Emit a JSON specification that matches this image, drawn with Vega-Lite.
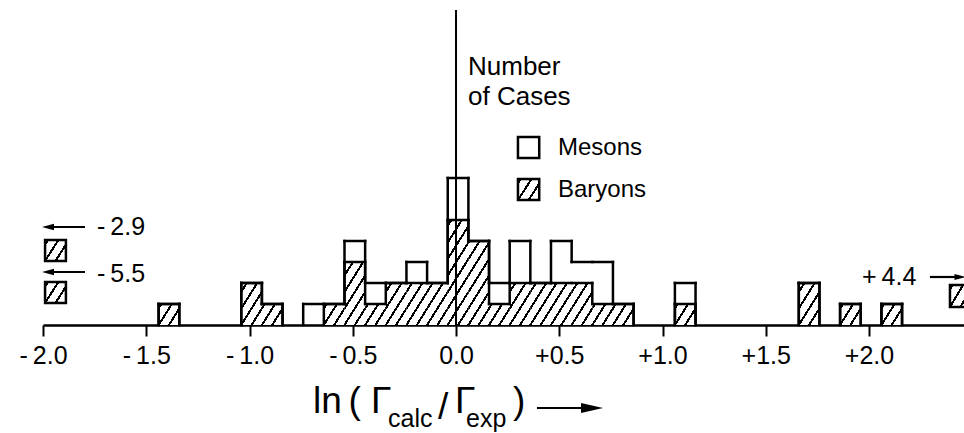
{
  "$schema": "https://vega.github.io/schema/vega-lite/v6.json",
  "width": 921,
  "height": 315,
  "autosize": {"type": "none"},
  "padding": {"left": 43, "top": 10, "right": 0, "bottom": 108},
  "background": "white",
  "config": {
    "view": {"stroke": null},
    "font": "Liberation Sans",
    "axis": {"grid": false, "domainColor": "black", "domainWidth": 2.5, "tickColor": "black", "tickWidth": 2, "tickSize": 11,
      "labelFontSize": 25, "labelFont": "Liberation Sans", "labelColor": "black", "labelPadding": 7,
      "labelFlush": false, "labelOverlap": false, "labelBound": false}
  },
  "datasets": {
    "bins": [
      {"lo": -1.54, "hi": -1.44, "baryons": 0, "mesons": 0, "total": 0},
      {"lo": -1.44, "hi": -1.34, "baryons": 1, "mesons": 0, "total": 1},
      {"lo": -1.34, "hi": -1.24, "baryons": 0, "mesons": 0, "total": 0},
      {"lo": -1.24, "hi": -1.14, "baryons": 0, "mesons": 0, "total": 0},
      {"lo": -1.14, "hi": -1.04, "baryons": 0, "mesons": 0, "total": 0},
      {"lo": -1.04, "hi": -0.94, "baryons": 2, "mesons": 0, "total": 2},
      {"lo": -0.94, "hi": -0.84, "baryons": 1, "mesons": 0, "total": 1},
      {"lo": -0.84, "hi": -0.74, "baryons": 0, "mesons": 0, "total": 0},
      {"lo": -0.74, "hi": -0.64, "baryons": 0, "mesons": 1, "total": 1},
      {"lo": -0.64, "hi": -0.54, "baryons": 1, "mesons": 0, "total": 1},
      {"lo": -0.54, "hi": -0.44, "baryons": 3, "mesons": 1, "total": 4},
      {"lo": -0.44, "hi": -0.34, "baryons": 1, "mesons": 1, "total": 2},
      {"lo": -0.34, "hi": -0.24, "baryons": 2, "mesons": 0, "total": 2},
      {"lo": -0.24, "hi": -0.14, "baryons": 2, "mesons": 1, "total": 3},
      {"lo": -0.14, "hi": -0.04, "baryons": 2, "mesons": 0, "total": 2},
      {"lo": -0.04, "hi": 0.06, "baryons": 5, "mesons": 2, "total": 7},
      {"lo": 0.06, "hi": 0.16, "baryons": 4, "mesons": 0, "total": 4},
      {"lo": 0.16, "hi": 0.26, "baryons": 1, "mesons": 1, "total": 2},
      {"lo": 0.26, "hi": 0.36, "baryons": 2, "mesons": 2, "total": 4},
      {"lo": 0.36, "hi": 0.46, "baryons": 2, "mesons": 0, "total": 2},
      {"lo": 0.46, "hi": 0.56, "baryons": 2, "mesons": 2, "total": 4},
      {"lo": 0.56, "hi": 0.66, "baryons": 2, "mesons": 1, "total": 3},
      {"lo": 0.66, "hi": 0.76, "baryons": 1, "mesons": 2, "total": 3},
      {"lo": 0.76, "hi": 0.86, "baryons": 1, "mesons": 0, "total": 1},
      {"lo": 0.86, "hi": 0.96, "baryons": 0, "mesons": 0, "total": 0},
      {"lo": 0.96, "hi": 1.06, "baryons": 0, "mesons": 0, "total": 0},
      {"lo": 1.06, "hi": 1.16, "baryons": 1, "mesons": 1, "total": 2},
      {"lo": 1.16, "hi": 1.26, "baryons": 0, "mesons": 0, "total": 0},
      {"lo": 1.26, "hi": 1.36, "baryons": 0, "mesons": 0, "total": 0},
      {"lo": 1.36, "hi": 1.46, "baryons": 0, "mesons": 0, "total": 0},
      {"lo": 1.46, "hi": 1.56, "baryons": 0, "mesons": 0, "total": 0},
      {"lo": 1.56, "hi": 1.66, "baryons": 0, "mesons": 0, "total": 0},
      {"lo": 1.66, "hi": 1.76, "baryons": 2, "mesons": 0, "total": 2},
      {"lo": 1.76, "hi": 1.86, "baryons": 0, "mesons": 0, "total": 0},
      {"lo": 1.86, "hi": 1.96, "baryons": 1, "mesons": 0, "total": 1},
      {"lo": 1.96, "hi": 2.06, "baryons": 0, "mesons": 0, "total": 0},
      {"lo": 2.06, "hi": 2.16, "baryons": 1, "mesons": 0, "total": 1},
      {"lo": 2.16, "hi": 2.26, "baryons": 0, "mesons": 0, "total": 0}
    ],
    "boxes": [
      {"x": -1.99, "x2": -1.889, "y": 3.048, "y2": 4.048, "kind": "hatched"},
      {"x": -1.99, "x2": -1.889, "y": 1.048, "y2": 2.048, "kind": "hatched"},
      {"x": 2.392, "x2": 2.492, "y": 0.857, "y2": 1.905, "kind": "hatched"},
      {"x": 0.3, "x2": 0.403, "y": 5.95, "y2": 6.95, "kind": "hatched"},
      {"x": 0.3, "x2": 0.403, "y": 7.95, "y2": 8.95, "kind": "open"}
    ],
    "origin": [{"x": 0}],
    "texts": [
      {"x": 0.058, "y": 11.9, "text": "Number", "role": "cases"},
      {"x": 0.058, "y": 10.48, "text": "of Cases", "role": "cases"},
      {"x": 0.494, "y": 8.42, "text": "Mesons", "role": "legend"},
      {"x": 0.494, "y": 6.45, "text": "Baryons", "role": "legend"},
      {"x": -1.7385, "y": 4.286, "text": "-\u20092.9", "role": "offscale"},
      {"x": -1.7385, "y": 2.048, "text": "-\u20095.5", "role": "offscale"},
      {"x": 1.966, "y": 1.905, "text": "+\u20094.4", "role": "offscale"},
      {"x": -0.6925, "y": -4.19, "text": "ln", "role": "title"},
      {"x": -0.521, "y": -4.19, "text": "(", "role": "title"},
      {"x": -0.4117, "y": -4.19, "text": "Γ", "role": "title"},
      {"x": -0.3293, "y": -4.86, "text": "calc", "role": "sub"},
      {"x": -0.087, "y": -4.48, "text": "/", "role": "title"},
      {"x": -0.0048, "y": -4.19, "text": "Γ", "role": "title"},
      {"x": 0.0484, "y": -4.86, "text": "exp", "role": "sub"},
      {"x": 0.276, "y": -4.19, "text": ")", "role": "title"}
    ],
    "arrows": [
      {"tail": -1.7966, "head": -1.9758, "y": 4.667, "kind": "left"},
      {"tail": -1.7966, "head": -1.9758, "y": 2.524, "kind": "left"},
      {"tail": 2.295, "head": 2.4407, "y": 2.286, "kind": "right"},
      {"tail": 0.392, "head": 0.6586, "y": -3.952, "kind": "big"}
    ]
  },
  "layer": [
    {
      "data": {"name": "bins"},
      "transform": [{"filter": "datum.baryons == 1"}],
      "mark": {"type": "rect", "strokeWidth": 0, "fill": {"gradient": "linear", "x1": 0, "y1": 0, "x2": 1.165, "y2": 0.7405, "stops": [
        {"offset": 0, "color": "white"},
        {"offset": 0.0481, "color": "white"}, {"offset": 0.0481, "color": "black"}, {"offset": 0.1184, "color": "black"}, {"offset": 0.1184, "color": "white"},
        {"offset": 0.3534, "color": "white"}, {"offset": 0.3534, "color": "black"}, {"offset": 0.4238, "color": "black"}, {"offset": 0.4238, "color": "white"},
        {"offset": 0.6588, "color": "white"}, {"offset": 0.6588, "color": "black"}, {"offset": 0.7291, "color": "black"}, {"offset": 0.7291, "color": "white"},
        {"offset": 0.9641, "color": "white"}, {"offset": 0.9641, "color": "black"}, {"offset": 1, "color": "black"}]}},
      "encoding": {
        "x": {"field": "lo", "type": "quantitative", "scale": {"domain": [-2, 2.46], "nice": false, "zero": false},
          "axis": {"values": [-2, -1.5, -1, -0.5, 0, 0.5, 1, 1.5, 2], "labelExpr": "datum.value == 0 ? '0.0' : (datum.value > 0 ? '+' : '-\u2009') + format(abs(datum.value), '.1f')", "title": null}},
        "x2": {"field": "hi"},
        "y": {"field": "baryons", "type": "quantitative", "scale": {"domain": [0, 15], "nice": false, "zero": false}, "axis": null},
        "y2": {"datum": 0}
      }
    },
    {
      "data": {"name": "bins"},
      "transform": [{"filter": "datum.baryons == 2"}],
      "mark": {"type": "rect", "strokeWidth": 0, "fill": {"gradient": "linear", "x1": 0, "y1": 0, "x2": 0.8682, "y2": 1.1037, "stops": [
        {"offset": 0, "color": "white"},
        {"offset": 0.0946, "color": "white"}, {"offset": 0.0946, "color": "black"}, {"offset": 0.1453, "color": "black"}, {"offset": 0.1453, "color": "white"},
        {"offset": 0.3145, "color": "white"}, {"offset": 0.3145, "color": "black"}, {"offset": 0.3651, "color": "black"}, {"offset": 0.3651, "color": "white"},
        {"offset": 0.5344, "color": "white"}, {"offset": 0.5344, "color": "black"}, {"offset": 0.585, "color": "black"}, {"offset": 0.585, "color": "white"},
        {"offset": 0.7543, "color": "white"}, {"offset": 0.7543, "color": "black"}, {"offset": 0.8049, "color": "black"}, {"offset": 0.8049, "color": "white"},
        {"offset": 0.9741, "color": "white"}, {"offset": 0.9741, "color": "black"}, {"offset": 1, "color": "black"}]}},
      "encoding": {
        "x": {"field": "lo", "type": "quantitative", "scale": {"domain": [-2, 2.46], "nice": false, "zero": false},
          "axis": {"values": [-2, -1.5, -1, -0.5, 0, 0.5, 1, 1.5, 2], "labelExpr": "datum.value == 0 ? '0.0' : (datum.value > 0 ? '+' : '-\u2009') + format(abs(datum.value), '.1f')", "title": null}},
        "x2": {"field": "hi"},
        "y": {"field": "baryons", "type": "quantitative", "scale": {"domain": [0, 15], "nice": false, "zero": false}, "axis": null},
        "y2": {"datum": 0}
      }
    },
    {
      "data": {"name": "bins"},
      "transform": [{"filter": "datum.baryons == 3"}],
      "mark": {"type": "rect", "strokeWidth": 0, "fill": {"gradient": "linear", "x1": 0, "y1": 0, "x2": 0.627, "y2": 1.1956, "stops": [
        {"offset": 0, "color": "white"},
        {"offset": 0.1208, "color": "white"}, {"offset": 0.1208, "color": "black"}, {"offset": 0.1604, "color": "black"}, {"offset": 0.1604, "color": "white"},
        {"offset": 0.2926, "color": "white"}, {"offset": 0.2926, "color": "black"}, {"offset": 0.3322, "color": "black"}, {"offset": 0.3322, "color": "white"},
        {"offset": 0.4644, "color": "white"}, {"offset": 0.4644, "color": "black"}, {"offset": 0.504, "color": "black"}, {"offset": 0.504, "color": "white"},
        {"offset": 0.6362, "color": "white"}, {"offset": 0.6362, "color": "black"}, {"offset": 0.6758, "color": "black"}, {"offset": 0.6758, "color": "white"},
        {"offset": 0.808, "color": "white"}, {"offset": 0.808, "color": "black"}, {"offset": 0.8476, "color": "black"}, {"offset": 0.8476, "color": "white"},
        {"offset": 0.9798, "color": "white"}, {"offset": 0.9798, "color": "black"}, {"offset": 1, "color": "black"}]}},
      "encoding": {
        "x": {"field": "lo", "type": "quantitative", "scale": {"domain": [-2, 2.46], "nice": false, "zero": false},
          "axis": {"values": [-2, -1.5, -1, -0.5, 0, 0.5, 1, 1.5, 2], "labelExpr": "datum.value == 0 ? '0.0' : (datum.value > 0 ? '+' : '-\u2009') + format(abs(datum.value), '.1f')", "title": null}},
        "x2": {"field": "hi"},
        "y": {"field": "baryons", "type": "quantitative", "scale": {"domain": [0, 15], "nice": false, "zero": false}, "axis": null},
        "y2": {"datum": 0}
      }
    },
    {
      "data": {"name": "bins"},
      "transform": [{"filter": "datum.baryons == 4"}],
      "mark": {"type": "rect", "strokeWidth": 0, "fill": {"gradient": "linear", "x1": 0, "y1": 0, "x2": 0.4746, "y2": 1.2067, "stops": [
        {"offset": 0, "color": "black"}, {"offset": 0.029, "color": "black"}, {"offset": 0.029, "color": "white"},
        {"offset": 0.1376, "color": "white"}, {"offset": 0.1376, "color": "black"}, {"offset": 0.17, "color": "black"}, {"offset": 0.17, "color": "white"},
        {"offset": 0.2785, "color": "white"}, {"offset": 0.2785, "color": "black"}, {"offset": 0.311, "color": "black"}, {"offset": 0.311, "color": "white"},
        {"offset": 0.4195, "color": "white"}, {"offset": 0.4195, "color": "black"}, {"offset": 0.452, "color": "black"}, {"offset": 0.452, "color": "white"},
        {"offset": 0.5605, "color": "white"}, {"offset": 0.5605, "color": "black"}, {"offset": 0.593, "color": "black"}, {"offset": 0.593, "color": "white"},
        {"offset": 0.7015, "color": "white"}, {"offset": 0.7015, "color": "black"}, {"offset": 0.7339, "color": "black"}, {"offset": 0.7339, "color": "white"},
        {"offset": 0.8424, "color": "white"}, {"offset": 0.8424, "color": "black"}, {"offset": 0.8749, "color": "black"}, {"offset": 0.8749, "color": "white"},
        {"offset": 0.9834, "color": "white"}, {"offset": 0.9834, "color": "black"}, {"offset": 1, "color": "black"}]}},
      "encoding": {
        "x": {"field": "lo", "type": "quantitative", "scale": {"domain": [-2, 2.46], "nice": false, "zero": false},
          "axis": {"values": [-2, -1.5, -1, -0.5, 0, 0.5, 1, 1.5, 2], "labelExpr": "datum.value == 0 ? '0.0' : (datum.value > 0 ? '+' : '-\u2009') + format(abs(datum.value), '.1f')", "title": null}},
        "x2": {"field": "hi"},
        "y": {"field": "baryons", "type": "quantitative", "scale": {"domain": [0, 15], "nice": false, "zero": false}, "axis": null},
        "y2": {"datum": 0}
      }
    },
    {
      "data": {"name": "bins"},
      "transform": [{"filter": "datum.baryons == 5"}],
      "mark": {"type": "rect", "strokeWidth": 0, "fill": {"gradient": "linear", "x1": 0, "y1": 0, "x2": 0.3764, "y2": 1.1963, "stops": [
        {"offset": 0, "color": "white"},
        {"offset": 0.0297, "color": "white"}, {"offset": 0.0297, "color": "black"}, {"offset": 0.0572, "color": "black"}, {"offset": 0.0572, "color": "white"},
        {"offset": 0.1492, "color": "white"}, {"offset": 0.1492, "color": "black"}, {"offset": 0.1768, "color": "black"}, {"offset": 0.1768, "color": "white"},
        {"offset": 0.2688, "color": "white"}, {"offset": 0.2688, "color": "black"}, {"offset": 0.2963, "color": "black"}, {"offset": 0.2963, "color": "white"},
        {"offset": 0.3883, "color": "white"}, {"offset": 0.3883, "color": "black"}, {"offset": 0.4158, "color": "black"}, {"offset": 0.4158, "color": "white"},
        {"offset": 0.5078, "color": "white"}, {"offset": 0.5078, "color": "black"}, {"offset": 0.5354, "color": "black"}, {"offset": 0.5354, "color": "white"},
        {"offset": 0.6274, "color": "white"}, {"offset": 0.6274, "color": "black"}, {"offset": 0.6549, "color": "black"}, {"offset": 0.6549, "color": "white"},
        {"offset": 0.7469, "color": "white"}, {"offset": 0.7469, "color": "black"}, {"offset": 0.7744, "color": "black"}, {"offset": 0.7744, "color": "white"},
        {"offset": 0.8664, "color": "white"}, {"offset": 0.8664, "color": "black"}, {"offset": 0.8939, "color": "black"}, {"offset": 0.8939, "color": "white"},
        {"offset": 0.9859, "color": "white"}, {"offset": 0.9859, "color": "black"}, {"offset": 1, "color": "black"}]}},
      "encoding": {
        "x": {"field": "lo", "type": "quantitative", "scale": {"domain": [-2, 2.46], "nice": false, "zero": false},
          "axis": {"values": [-2, -1.5, -1, -0.5, 0, 0.5, 1, 1.5, 2], "labelExpr": "datum.value == 0 ? '0.0' : (datum.value > 0 ? '+' : '-\u2009') + format(abs(datum.value), '.1f')", "title": null}},
        "x2": {"field": "hi"},
        "y": {"field": "baryons", "type": "quantitative", "scale": {"domain": [0, 15], "nice": false, "zero": false}, "axis": null},
        "y2": {"datum": 0}
      }
    },
    {
      "data": {"name": "boxes"},
      "transform": [{"filter": "datum.kind == 'hatched'"}],
      "mark": {"type": "rect", "stroke": "black", "strokeWidth": 2.5, "fill": {"gradient": "linear", "x1": 0, "y1": 0, "x2": 1.165, "y2": 0.7405, "stops": [
        {"offset": 0, "color": "white"},
        {"offset": 0.0481, "color": "white"}, {"offset": 0.0481, "color": "black"}, {"offset": 0.1184, "color": "black"}, {"offset": 0.1184, "color": "white"},
        {"offset": 0.3534, "color": "white"}, {"offset": 0.3534, "color": "black"}, {"offset": 0.4238, "color": "black"}, {"offset": 0.4238, "color": "white"},
        {"offset": 0.6588, "color": "white"}, {"offset": 0.6588, "color": "black"}, {"offset": 0.7291, "color": "black"}, {"offset": 0.7291, "color": "white"},
        {"offset": 0.9641, "color": "white"}, {"offset": 0.9641, "color": "black"}, {"offset": 1, "color": "black"}]}},
      "encoding": {
        "x": {"field": "x", "type": "quantitative", "scale": {"domain": [-2, 2.46], "nice": false, "zero": false},
          "axis": {"values": [-2, -1.5, -1, -0.5, 0, 0.5, 1, 1.5, 2], "labelExpr": "datum.value == 0 ? '0.0' : (datum.value > 0 ? '+' : '-\u2009') + format(abs(datum.value), '.1f')", "title": null}},
        "x2": {"field": "x2"},
        "y": {"field": "y", "type": "quantitative", "scale": {"domain": [0, 15], "nice": false, "zero": false}, "axis": null},
        "y2": {"field": "y2"}
      }
    },
    {
      "data": {"name": "boxes"},
      "transform": [{"filter": "datum.kind == 'open'"}],
      "mark": {"type": "rect", "stroke": "black", "strokeWidth": 2.5, "fill": "white"},
      "encoding": {
        "x": {"field": "x", "type": "quantitative", "scale": {"domain": [-2, 2.46], "nice": false, "zero": false},
          "axis": {"values": [-2, -1.5, -1, -0.5, 0, 0.5, 1, 1.5, 2], "labelExpr": "datum.value == 0 ? '0.0' : (datum.value > 0 ? '+' : '-\u2009') + format(abs(datum.value), '.1f')", "title": null}},
        "x2": {"field": "x2"},
        "y": {"field": "y", "type": "quantitative", "scale": {"domain": [0, 15], "nice": false, "zero": false}, "axis": null},
        "y2": {"field": "y2"}
      }
    },
    {
      "data": {"name": "bins"},
      "transform": [{"filter": "datum.total > 0"}],
      "mark": {"type": "rule", "color": "black", "strokeWidth": 2.5, "strokeCap": "square"},
      "encoding": {
        "x": {"field": "lo", "type": "quantitative", "scale": {"domain": [-2, 2.46], "nice": false, "zero": false},
          "axis": {"values": [-2, -1.5, -1, -0.5, 0, 0.5, 1, 1.5, 2], "labelExpr": "datum.value == 0 ? '0.0' : (datum.value > 0 ? '+' : '-\u2009') + format(abs(datum.value), '.1f')", "title": null}},
        "x2": {"field": "hi"},
        "y": {"field": "total", "type": "quantitative", "scale": {"domain": [0, 15], "nice": false, "zero": false}, "axis": null}
      }
    },
    {
      "data": {"name": "bins"},
      "transform": [{"filter": "datum.baryons > 0"}],
      "mark": {"type": "rule", "color": "black", "strokeWidth": 2.5, "strokeCap": "square"},
      "encoding": {
        "x": {"field": "lo", "type": "quantitative", "scale": {"domain": [-2, 2.46], "nice": false, "zero": false},
          "axis": {"values": [-2, -1.5, -1, -0.5, 0, 0.5, 1, 1.5, 2], "labelExpr": "datum.value == 0 ? '0.0' : (datum.value > 0 ? '+' : '-\u2009') + format(abs(datum.value), '.1f')", "title": null}},
        "x2": {"field": "hi"},
        "y": {"field": "baryons", "type": "quantitative", "scale": {"domain": [0, 15], "nice": false, "zero": false}, "axis": null}
      }
    },
    {
      "data": {"name": "bins"},
      "transform": [
        {"window": [{"op": "lag", "field": "total", "as": "prevTotal"}], "sort": [{"field": "lo", "order": "ascending"}]},
        {"filter": "datum.prevTotal != null && datum.prevTotal != datum.total"}
      ],
      "mark": {"type": "rule", "color": "black", "strokeWidth": 2.5, "strokeCap": "square"},
      "encoding": {
        "x": {"field": "lo", "type": "quantitative", "scale": {"domain": [-2, 2.46], "nice": false, "zero": false},
          "axis": {"values": [-2, -1.5, -1, -0.5, 0, 0.5, 1, 1.5, 2], "labelExpr": "datum.value == 0 ? '0.0' : (datum.value > 0 ? '+' : '-\u2009') + format(abs(datum.value), '.1f')", "title": null}},
        "y": {"field": "prevTotal", "type": "quantitative", "scale": {"domain": [0, 15], "nice": false, "zero": false}, "axis": null},
        "y2": {"field": "total"}
      }
    },
    {
      "data": {"name": "bins"},
      "transform": [
        {"window": [{"op": "lag", "field": "baryons", "as": "prevBaryons"}], "sort": [{"field": "lo", "order": "ascending"}]},
        {"filter": "datum.prevBaryons != null && datum.prevBaryons != datum.baryons"}
      ],
      "mark": {"type": "rule", "color": "black", "strokeWidth": 2.5, "strokeCap": "square"},
      "encoding": {
        "x": {"field": "lo", "type": "quantitative", "scale": {"domain": [-2, 2.46], "nice": false, "zero": false},
          "axis": {"values": [-2, -1.5, -1, -0.5, 0, 0.5, 1, 1.5, 2], "labelExpr": "datum.value == 0 ? '0.0' : (datum.value > 0 ? '+' : '-\u2009') + format(abs(datum.value), '.1f')", "title": null}},
        "y": {"field": "prevBaryons", "type": "quantitative", "scale": {"domain": [0, 15], "nice": false, "zero": false}, "axis": null},
        "y2": {"field": "baryons"}
      }
    },
    {
      "data": {"name": "origin"},
      "mark": {"type": "rule", "color": "black", "strokeWidth": 2},
      "encoding": {
        "x": {"field": "x", "type": "quantitative", "scale": {"domain": [-2, 2.46], "nice": false, "zero": false},
          "axis": {"values": [-2, -1.5, -1, -0.5, 0, 0.5, 1, 1.5, 2], "labelExpr": "datum.value == 0 ? '0.0' : (datum.value > 0 ? '+' : '-\u2009') + format(abs(datum.value), '.1f')", "title": null}}
      }
    },
    {
      "data": {"name": "texts"},
      "transform": [{"filter": "datum.role == 'cases'"}],
      "mark": {"type": "text", "align": "left", "baseline": "alphabetic", "font": "Liberation Sans", "fontSize": 26, "fill": "black"},
      "encoding": {
        "x": {"field": "x", "type": "quantitative", "scale": {"domain": [-2, 2.46], "nice": false, "zero": false},
          "axis": {"values": [-2, -1.5, -1, -0.5, 0, 0.5, 1, 1.5, 2], "labelExpr": "datum.value == 0 ? '0.0' : (datum.value > 0 ? '+' : '-\u2009') + format(abs(datum.value), '.1f')", "title": null}},
        "y": {"field": "y", "type": "quantitative", "scale": {"domain": [0, 15], "nice": false, "zero": false}, "axis": null},
        "text": {"field": "text"}
      }
    },
    {
      "data": {"name": "texts"},
      "transform": [{"filter": "datum.role == 'legend'"}],
      "mark": {"type": "text", "align": "left", "baseline": "middle", "font": "Liberation Sans", "fontSize": 24, "fill": "black"},
      "encoding": {
        "x": {"field": "x", "type": "quantitative", "scale": {"domain": [-2, 2.46], "nice": false, "zero": false},
          "axis": {"values": [-2, -1.5, -1, -0.5, 0, 0.5, 1, 1.5, 2], "labelExpr": "datum.value == 0 ? '0.0' : (datum.value > 0 ? '+' : '-\u2009') + format(abs(datum.value), '.1f')", "title": null}},
        "y": {"field": "y", "type": "quantitative", "scale": {"domain": [0, 15], "nice": false, "zero": false}, "axis": null},
        "text": {"field": "text"}
      }
    },
    {
      "data": {"name": "texts"},
      "transform": [{"filter": "datum.role == 'offscale'"}],
      "mark": {"type": "text", "align": "left", "baseline": "alphabetic", "font": "Liberation Sans", "fontSize": 25, "fill": "black"},
      "encoding": {
        "x": {"field": "x", "type": "quantitative", "scale": {"domain": [-2, 2.46], "nice": false, "zero": false},
          "axis": {"values": [-2, -1.5, -1, -0.5, 0, 0.5, 1, 1.5, 2], "labelExpr": "datum.value == 0 ? '0.0' : (datum.value > 0 ? '+' : '-\u2009') + format(abs(datum.value), '.1f')", "title": null}},
        "y": {"field": "y", "type": "quantitative", "scale": {"domain": [0, 15], "nice": false, "zero": false}, "axis": null},
        "text": {"field": "text"}
      }
    },
    {
      "data": {"name": "texts"},
      "transform": [{"filter": "datum.role == 'title'"}],
      "mark": {"type": "text", "align": "left", "baseline": "alphabetic", "font": "Liberation Sans", "fontSize": 37, "fill": "black"},
      "encoding": {
        "x": {"field": "x", "type": "quantitative", "scale": {"domain": [-2, 2.46], "nice": false, "zero": false},
          "axis": {"values": [-2, -1.5, -1, -0.5, 0, 0.5, 1, 1.5, 2], "labelExpr": "datum.value == 0 ? '0.0' : (datum.value > 0 ? '+' : '-\u2009') + format(abs(datum.value), '.1f')", "title": null}},
        "y": {"field": "y", "type": "quantitative", "scale": {"domain": [0, 15], "nice": false, "zero": false}, "axis": null},
        "text": {"field": "text"}
      }
    },
    {
      "data": {"name": "texts"},
      "transform": [{"filter": "datum.role == 'sub'"}],
      "mark": {"type": "text", "align": "left", "baseline": "alphabetic", "font": "Liberation Sans", "fontSize": 25, "fill": "black"},
      "encoding": {
        "x": {"field": "x", "type": "quantitative", "scale": {"domain": [-2, 2.46], "nice": false, "zero": false},
          "axis": {"values": [-2, -1.5, -1, -0.5, 0, 0.5, 1, 1.5, 2], "labelExpr": "datum.value == 0 ? '0.0' : (datum.value > 0 ? '+' : '-\u2009') + format(abs(datum.value), '.1f')", "title": null}},
        "y": {"field": "y", "type": "quantitative", "scale": {"domain": [0, 15], "nice": false, "zero": false}, "axis": null},
        "text": {"field": "text"}
      }
    },
    {
      "data": {"name": "arrows"},
      "mark": {"type": "rule", "color": "black", "strokeWidth": 2.2},
      "encoding": {
        "x": {"field": "tail", "type": "quantitative", "scale": {"domain": [-2, 2.46], "nice": false, "zero": false},
          "axis": {"values": [-2, -1.5, -1, -0.5, 0, 0.5, 1, 1.5, 2], "labelExpr": "datum.value == 0 ? '0.0' : (datum.value > 0 ? '+' : '-\u2009') + format(abs(datum.value), '.1f')", "title": null}},
        "x2": {"field": "head"},
        "y": {"field": "y", "type": "quantitative", "scale": {"domain": [0, 15], "nice": false, "zero": false}, "axis": null}
      }
    },
    {
      "data": {"name": "arrows"},
      "transform": [{"filter": "datum.kind == 'left'"}],
      "mark": {"type": "point", "filled": true, "opacity": 1, "color": "black", "strokeWidth": 0, "size": 144, "shape": "M-1,0L1,-0.55L1,0.55Z"},
      "encoding": {
        "x": {"field": "head", "type": "quantitative", "scale": {"domain": [-2, 2.46], "nice": false, "zero": false},
          "axis": {"values": [-2, -1.5, -1, -0.5, 0, 0.5, 1, 1.5, 2], "labelExpr": "datum.value == 0 ? '0.0' : (datum.value > 0 ? '+' : '-\u2009') + format(abs(datum.value), '.1f')", "title": null}},
        "y": {"field": "y", "type": "quantitative", "scale": {"domain": [0, 15], "nice": false, "zero": false}, "axis": null}
      }
    },
    {
      "data": {"name": "arrows"},
      "transform": [{"filter": "datum.kind == 'right'"}],
      "mark": {"type": "point", "filled": true, "opacity": 1, "color": "black", "strokeWidth": 0, "size": 121, "shape": "M1,0L-1,-0.55L-1,0.55Z"},
      "encoding": {
        "x": {"field": "head", "type": "quantitative", "scale": {"domain": [-2, 2.46], "nice": false, "zero": false},
          "axis": {"values": [-2, -1.5, -1, -0.5, 0, 0.5, 1, 1.5, 2], "labelExpr": "datum.value == 0 ? '0.0' : (datum.value > 0 ? '+' : '-\u2009') + format(abs(datum.value), '.1f')", "title": null}},
        "y": {"field": "y", "type": "quantitative", "scale": {"domain": [0, 15], "nice": false, "zero": false}, "axis": null}
      }
    },
    {
      "data": {"name": "arrows"},
      "transform": [{"filter": "datum.kind == 'big'"}],
      "mark": {"type": "point", "filled": true, "opacity": 1, "color": "black", "strokeWidth": 0, "size": 484, "shape": "M1,0L-1,-0.45L-1,0.45Z"},
      "encoding": {
        "x": {"field": "head", "type": "quantitative", "scale": {"domain": [-2, 2.46], "nice": false, "zero": false},
          "axis": {"values": [-2, -1.5, -1, -0.5, 0, 0.5, 1, 1.5, 2], "labelExpr": "datum.value == 0 ? '0.0' : (datum.value > 0 ? '+' : '-\u2009') + format(abs(datum.value), '.1f')", "title": null}},
        "y": {"field": "y", "type": "quantitative", "scale": {"domain": [0, 15], "nice": false, "zero": false}, "axis": null}
      }
    }
  ]
}
